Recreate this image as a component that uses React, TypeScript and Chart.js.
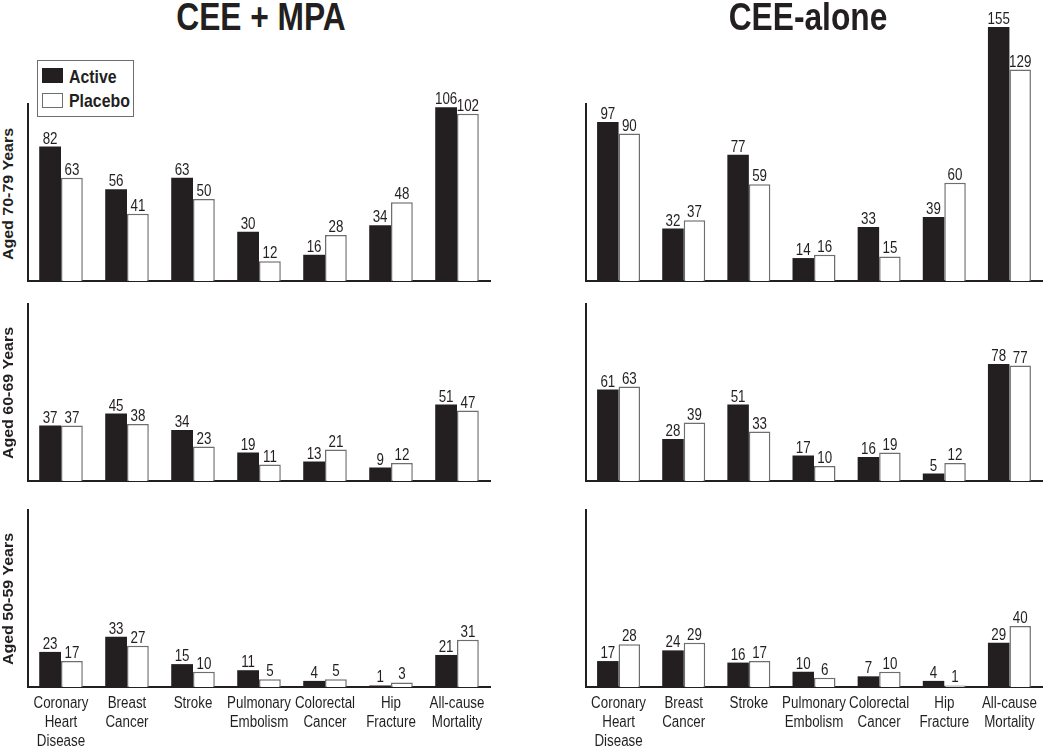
import React, { useEffect, useRef } from "react";
import { Chart, registerables } from "chart.js";

Chart.register(...registerables);

// ---------- data ----------
const categories = [
  ["Coronary", "Heart", "Disease"],
  ["Breast", "Cancer"],
  ["Stroke"],
  ["Pulmonary", "Embolism"],
  ["Colorectal", "Cancer"],
  ["Hip", "Fracture"],
  ["All-cause", "Mortality"],
];

const seriesNames = ["Active", "Placebo"];
const panelTitles = ["CEE + MPA", "CEE-alone"];
const rowLabels = ["Aged 70-79 Years", "Aged 60-69 Years", "Aged 50-59 Years"];
const rowAxisMax = [108, 118, 116];

const ceeMpa7079Active = [82, 56, 63, 30, 16, 34, 106];
const ceeMpa7079Placebo = [63, 41, 50, 12, 28, 48, 102];
const ceeMpa6069Active = [37, 45, 34, 19, 13, 9, 51];
const ceeMpa6069Placebo = [37, 38, 23, 11, 21, 12, 47];
const ceeMpa5059Active = [23, 33, 15, 11, 4, 1, 21];
const ceeMpa5059Placebo = [17, 27, 10, 5, 5, 3, 31];

const ceeAlone7079Active = [97, 32, 77, 14, 33, 39, 155];
const ceeAlone7079Placebo = [90, 37, 59, 16, 15, 60, 129];
const ceeAlone6069Active = [61, 28, 51, 17, 16, 5, 78];
const ceeAlone6069Placebo = [63, 39, 33, 10, 19, 12, 77];
const ceeAlone5059Active = [17, 24, 16, 10, 7, 4, 29];
const ceeAlone5059Placebo = [28, 29, 17, 6, 10, 1, 40];

// ---------- styling ----------
const INK = "#231f20";
const EDGE = "#6d6e71";
const FONT = "'Liberation Sans', Arial, Helvetica, sans-serif";
const SX = 0.835; // horizontal condensing of the original typeface

const columns = [
  { left: 28, right: 490 },
  { left: 586, right: 1042 },
];
const rows = [
  { top: 104, bottom: 281 },
  { top: 304, bottom: 481 },
  { top: 510, bottom: 687 },
];
const rowLabelCenters = [194, 393, 599];

function drawCondensed(ctx: CanvasRenderingContext2D, text: string, x: number, y: number) {
  ctx.save();
  ctx.translate(x, y);
  ctx.scale(SX, 1);
  ctx.fillText(text, 0, 0);
  ctx.restore();
}

const textPlugin = {
  id: "panelText",
  afterDatasetsDraw(chart: any, _args: any, opts: any) {
    const ctx = chart.ctx as CanvasRenderingContext2D;
    ctx.save();
    ctx.font = `16px ${FONT}`;
    ctx.fillStyle = INK;
    ctx.textAlign = "center";
    ctx.textBaseline = "alphabetic";
    chart.data.datasets.forEach((ds: any, i: number) => {
      chart.getDatasetMeta(i).data.forEach((bar: any, j: number) => {
        drawCondensed(ctx, String(ds.data[j]), bar.x, bar.y - 3);
      });
    });
    if (opts && opts.categoryLabels) {
      const xs = chart.scales.x;
      const base = chart.chartArea.bottom;
      (chart.data.labels as string[][]).forEach((lines, i) => {
        const x = xs.getPixelForTick(i);
        lines.forEach((line, k) => {
          drawCondensed(ctx, line, x, base + 21 + k * 19);
        });
      });
    }
    ctx.restore();
  },
};

type PanelProps = {
  active: number[];
  placebo: number[];
  yMax: number;
  col: number;
  row: number;
  showLabels: boolean;
  padT: number;
};

function Panel({ active, placebo, yMax, col, row, showLabels, padT }: PanelProps) {
  const ref = useRef<HTMLCanvasElement | null>(null);
  const padL = 8;
  const padR = 8;
  const labelH = 60;
  const padB = showLabels ? 0 : 4;
  const c = columns[col];
  const r = rows[row];
  const plotW = c.right - c.left;
  const plotH = r.bottom - r.top;
  const width = plotW + padL + padR;
  const height = padT + plotH + (showLabels ? labelH : padB);

  useEffect(() => {
    if (!ref.current) return;
    const chart = new Chart(ref.current, {
      type: "bar",
      data: {
        labels: categories,
        datasets: [
          {
            label: seriesNames[0],
            data: active,
            backgroundColor: INK,
            borderColor: INK,
            borderWidth: 0,
            categoryPercentage: 0.66,
            barPercentage: 1,
            clip: false,
          },
          {
            label: seriesNames[1],
            data: placebo,
            backgroundColor: "#ffffff",
            borderColor: EDGE,
            borderWidth: 1.5,
            categoryPercentage: 0.66,
            barPercentage: 1,
            clip: false,
          },
        ],
      } as any,
      options: {
        responsive: false,
        animation: false,
        devicePixelRatio: 1,
        layout: { padding: { left: padL, right: padR, top: padT, bottom: padB } },
        plugins: {
          legend: { display: false },
          tooltip: { enabled: false },
          title: { display: false },
          panelText: { categoryLabels: showLabels },
        } as any,
        scales: {
          x: {
            z: 1,
            grid: { display: false, drawTicks: false },
            border: { display: true, color: INK, width: 2 },
            ticks: { display: false },
            afterFit: (s: any) => {
              s.height = showLabels ? labelH : 0;
            },
          },
          y: {
            z: 1,
            min: 0,
            max: yMax,
            grid: { display: false, drawTicks: false },
            border: { display: true, color: INK, width: 2 },
            ticks: { display: false },
            afterFit: (s: any) => {
              s.width = 0;
            },
          },
        } as any,
      },
      plugins: [textPlugin],
    });
    return () => chart.destroy();
  }, []);

  return (
    <canvas
      ref={ref}
      width={width}
      height={height}
      style={{
        position: "absolute",
        left: c.left - padL,
        top: r.top - padT,
        width,
        height,
      }}
    />
  );
}

const panels = [
  { col: 0, row: 0, active: ceeMpa7079Active, placebo: ceeMpa7079Placebo, padT: 30 },
  { col: 0, row: 1, active: ceeMpa6069Active, placebo: ceeMpa6069Placebo, padT: 30 },
  { col: 0, row: 2, active: ceeMpa5059Active, placebo: ceeMpa5059Placebo, padT: 30 },
  { col: 1, row: 0, active: ceeAlone7079Active, placebo: ceeAlone7079Placebo, padT: 100 },
  { col: 1, row: 1, active: ceeAlone6069Active, placebo: ceeAlone6069Placebo, padT: 30 },
  { col: 1, row: 2, active: ceeAlone5059Active, placebo: ceeAlone5059Placebo, padT: 30 },
];

const titleCenters = [261, 808];

export default function App() {
  return (
    <div
      style={{
        position: "absolute",
        left: 0,
        top: 0,
        width: 1050,
        height: 748,
        overflow: "hidden",
        background: "#ffffff",
        color: INK,
      }}
    >
      {panels.map((p, i) => (
        <Panel
          key={i}
          active={p.active}
          placebo={p.placebo}
          yMax={rowAxisMax[p.row]}
          col={p.col}
          row={p.row}
          showLabels={p.row === 2}
          padT={p.padT}
        />
      ))}

      {panelTitles.map((t, i) => (
        <div
          key={t}
          style={{
            position: "absolute",
            left: titleCenters[i] - 150,
            top: -2,
            width: 300,
            textAlign: "center",
            fontFamily: FONT,
            fontWeight: "bold",
            fontSize: 38,
            lineHeight: 1,
            whiteSpace: "nowrap",
            transform: `scaleX(${SX})`,
            transformOrigin: "50% 50%",
          }}
        >
          {t}
        </div>
      ))}

      {rowLabels.map((t, i) => (
        <div
          key={t}
          style={{
            position: "absolute",
            left: 8,
            top: rowLabelCenters[i],
            transform: "translate(-50%, -50%) rotate(-90deg) scaleY(0.9)",
            fontFamily: FONT,
            fontWeight: "bold",
            fontSize: 16,
            lineHeight: 1,
            whiteSpace: "nowrap",
          }}
        >
          {t}
        </div>
      ))}

      {/* legend */}
      <div
        style={{
          position: "absolute",
          left: 37,
          top: 60,
          width: 97,
          height: 57,
          boxSizing: "border-box",
          border: `1.5px solid ${EDGE}`,
          background: "#ffffff",
        }}
      />
      <div
        style={{
          position: "absolute",
          left: 42,
          top: 68,
          width: 21,
          height: 15,
          background: INK,
        }}
      />
      <div
        style={{
          position: "absolute",
          left: 42,
          top: 93,
          width: 21,
          height: 15,
          boxSizing: "border-box",
          background: "#ffffff",
          border: `1.5px solid ${EDGE}`,
        }}
      />
      {seriesNames.map((s, i) => (
        <div
          key={s}
          style={{
            position: "absolute",
            left: 69,
            top: i === 0 ? 66.5 : 90.5,
            fontFamily: FONT,
            fontWeight: "bold",
            fontSize: 19,
            lineHeight: 1,
            whiteSpace: "nowrap",
            transform: `scaleX(${SX})`,
            transformOrigin: "0% 50%",
          }}
        >
          {s}
        </div>
      ))}
    </div>
  );
}
